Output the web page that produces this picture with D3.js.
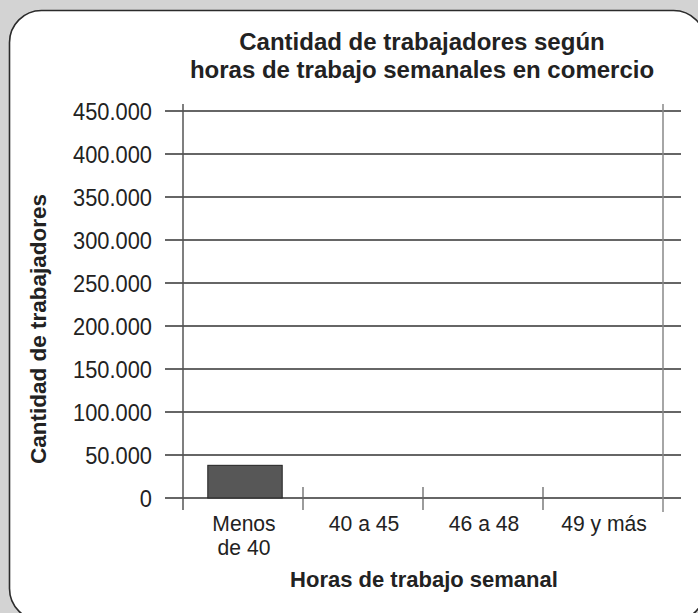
<!DOCTYPE html>
<html>
<head>
<meta charset="utf-8">
<script src="https://cdn.jsdelivr.net/npm/d3@7"></script>
<style>
  body { margin: 0; background: #d3d3d3; }
  svg { display: block; font-family: 'Liberation Sans', Arial, sans-serif; }
</style>
</head>
<body>
<div id="canvas"></div>
<script>
// data
const categories = ['Menos de 40', '40 a 45', '46 a 48', '49 y más'];
const categoryLines = [['Menos', 'de 40'], ['40 a 45'], ['46 a 48'], ['49 y más']];
const workers = [38000, null, null, null];
const yTicks = [0, 50000, 100000, 150000, 200000, 250000, 300000, 350000, 400000, 450000];
const yTickLabels = ['0', '50.000', '100.000', '150.000', '200.000', '250.000', '300.000', '350.000', '400.000', '450.000'];

const svgWidth = 698, svgHeight = 613;
const narrow = 0.91; // the original font is a condensed sans

const svg = d3.select('#canvas').append('svg')
  .attr('width', svgWidth)
  .attr('height', svgHeight);

// white card with rounded corners
svg.append('rect')
  .attr('x', 9.5).attr('y', 10.5)
  .attr('width', 696).attr('height', 610)
  .attr('rx', 32).attr('ry', 32)
  .attr('fill', '#fff')
  .attr('stroke', '#2b2b2b')
  .attr('stroke-width', 1.6);

const xScale = d3.scaleBand()
  .domain(categories)
  .range([183, 663]);

const yScale = d3.scaleLinear()
  .domain([0, 450000])
  .range([498, 111]);

// gridlines
svg.append('g')
  .selectAll('line')
  .data(yTicks)
  .enter().append('line')
  .attr('x1', 165).attr('x2', 681)
  .attr('y1', d => yScale(d)).attr('y2', d => yScale(d))
  .attr('stroke', '#333')
  .attr('stroke-width', 1.3);

// y axis labels
svg.append('g')
  .selectAll('text')
  .data(yTicks)
  .enter().append('text')
  .attr('transform', d => `translate(152,${yScale(d)}) scale(${narrow},1)`)
  .attr('dy', '0.36em')
  .attr('text-anchor', 'end')
  .style('font-size', '24px')
  .attr('fill', '#222')
  .text((d, i) => yTickLabels[i]);

// vertical frame lines
svg.append('line')
  .attr('x1', 183).attr('x2', 183)
  .attr('y1', 104).attr('y2', 510)
  .attr('stroke', '#555').attr('stroke-width', 1.5);
svg.append('line')
  .attr('x1', 663).attr('x2', 663)
  .attr('y1', 104).attr('y2', 512)
  .attr('stroke', '#888').attr('stroke-width', 1.5);

// category separators
svg.append('g')
  .selectAll('line')
  .data(categories.slice(1))
  .enter().append('line')
  .attr('x1', d => xScale(d)).attr('x2', d => xScale(d))
  .attr('y1', 487).attr('y2', 510)
  .attr('stroke', '#666').attr('stroke-width', 1.3);

// bars
const barWidth = xScale.bandwidth() * 0.62;
svg.append('g')
  .selectAll('rect')
  .data(categories.map((c, i) => ({ c: c, v: workers[i] })).filter(d => d.v != null))
  .enter().append('rect')
  .attr('x', d => xScale(d.c) + (xScale.bandwidth() - barWidth) / 2 + 2)
  .attr('y', d => yScale(d.v))
  .attr('width', barWidth)
  .attr('height', d => yScale(0) - yScale(d.v))
  .attr('fill', '#575757')
  .attr('stroke', '#222')
  .attr('stroke-width', 1);

// category labels
svg.append('g')
  .selectAll('text')
  .data(categories)
  .enter().append('text')
  .attr('transform', d => `translate(${xScale(d) + xScale.bandwidth() / 2 + 1},531) scale(0.96,1)`)
  .attr('text-anchor', 'middle')
  .style('font-size', '22px')
  .attr('fill', '#222')
  .each(function(d, i) {
    const t = d3.select(this);
    categoryLines[i].forEach((line, j) => {
      t.append('tspan')
        .attr('x', 0)
        .attr('y', j * 24)
        .text(line);
    });
  });

// title
const title = svg.append('text')
  .attr('text-anchor', 'middle')
  .style('font-size', '24px')
  .style('font-weight', 'bold')
  .attr('fill', '#222');
title.append('tspan').attr('x', 422).attr('y', 50).text('Cantidad de trabajadores según');
title.append('tspan').attr('x', 422).attr('y', 78).text('horas de trabajo semanales en comercio');

// axis titles
svg.append('text')
  .attr('x', 424).attr('y', 587)
  .attr('text-anchor', 'middle')
  .style('font-size', '22px')
  .style('font-weight', 'bold')
  .attr('fill', '#222')
  .text('Horas de trabajo semanal');

svg.append('text')
  .attr('transform', 'translate(46,329) rotate(-90)')
  .attr('text-anchor', 'middle')
  .style('font-size', '22.5px')
  .style('font-weight', 'bold')
  .attr('fill', '#222')
  .text('Cantidad de trabajadores');
</script>
</body>
</html>
